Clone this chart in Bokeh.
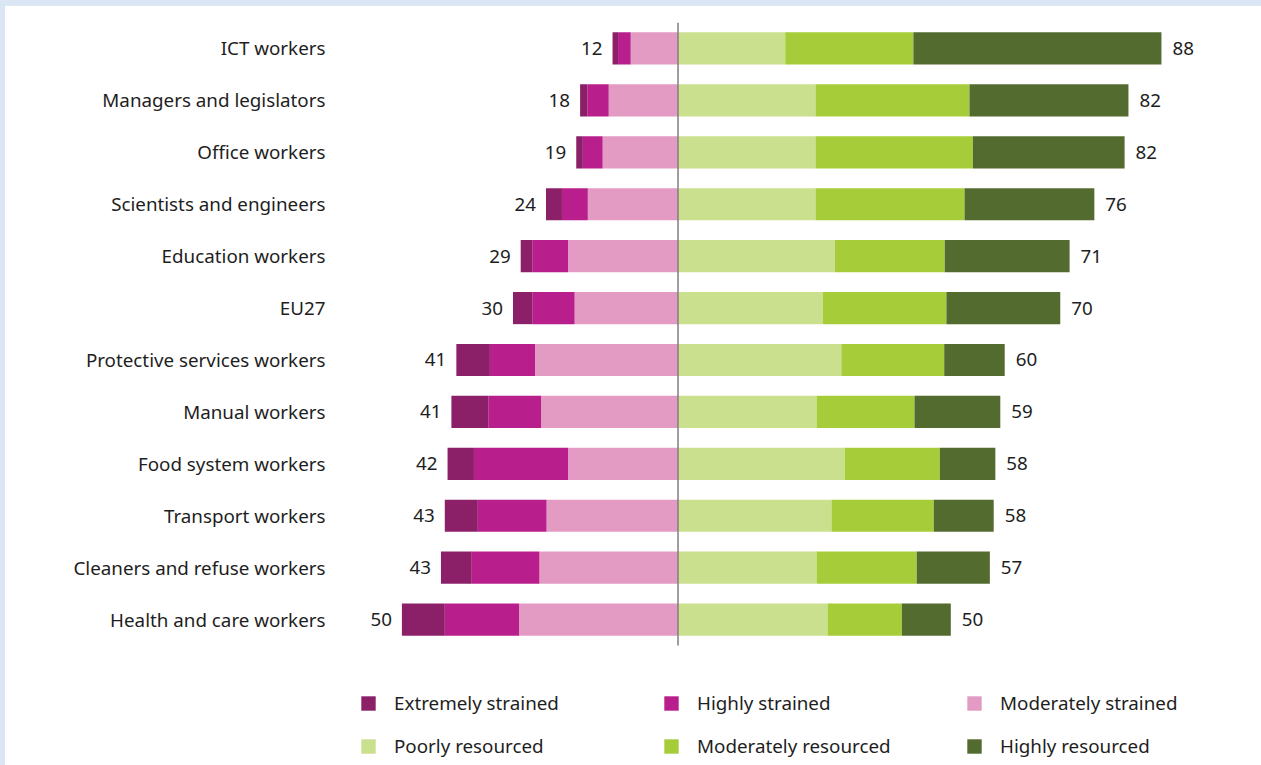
from bokeh.plotting import figure
from bokeh.models import ColumnDataSource, Legend, LegendItem, Range1d, FixedTicker
from bokeh.embed import file_html
from bokeh.resources import INLINE
from bokeh.core.properties import value

categories = [
    "ICT workers", "Managers and legislators", "Office workers",
    "Scientists and engineers", "Education workers", "EU27",
    "Protective services workers", "Manual workers", "Food system workers",
    "Transport workers", "Cleaners and refuse workers", "Health and care workers",
]
extremely_strained = [1.0, 1.3, 1.2, 2.9, 2.1, 3.5, 6.1, 6.7, 4.8, 6.0, 5.6, 7.8]
highly_strained = [2.3, 3.9, 3.6, 4.7, 6.5, 7.7, 8.2, 9.6, 17.1, 12.5, 12.3, 13.5]
moderately_strained = [8.6, 12.6, 13.7, 16.4, 20.0, 18.8, 26.0, 24.9, 20.0, 23.9, 25.2, 28.9]
poorly_resourced = [19.5, 25.0, 25.0, 25.0, 28.5, 26.3, 29.7, 25.2, 30.3, 27.9, 25.2, 27.2]
moderately_resourced = [23.3, 28.0, 28.6, 27.1, 20.0, 22.5, 18.7, 17.8, 17.3, 18.6, 18.2, 13.5]
highly_resourced = [45.1, 28.9, 27.6, 23.6, 22.7, 20.7, 11.0, 15.6, 10.1, 10.9, 13.3, 8.9]
strained_labels = [12, 18, 19, 24, 29, 30, 41, 41, 42, 43, 43, 50]
resourced_labels = [88, 82, 82, 76, 71, 70, 60, 59, 58, 58, 57, 50]

series_names = [
    "Extremely strained", "Highly strained", "Moderately strained",
    "Poorly resourced", "Moderately resourced", "Highly resourced",
]
colors = ["#8b2069", "#b91f8c", "#e39bc3", "#cbe08e", "#a6cd39", "#546b30"]

FONT = "Noto Sans"
FS = "18.8px"
TEXT = "#1e1e1e"

rows = list(range(len(categories)))

source = ColumnDataSource(dict(
    row=rows,
    ext=[-v for v in extremely_strained],
    hig=[-v for v in highly_strained],
    mods=[-v for v in moderately_strained],
    poor=poorly_resourced,
    modr=moderately_resourced,
    highr=highly_resourced,
))

p = figure(
    width=1256, height=759,
    y_range=Range1d(13.81, -0.5),
    x_range=Range1d(-61.91, 106.09),
    x_axis_location=None,
    output_backend="svg", toolbar_location=None,
    min_border_left=332, min_border_right=0, min_border_top=16, min_border_bottom=0,
)
p.outline_line_color = None
p.xgrid.visible = False
p.ygrid.visible = False
p.background_fill_color = None
p.border_fill_color = None

left = p.hbar_stack(["mods", "hig", "ext"], y="row", height=0.62, source=source,
                    color=[colors[2], colors[1], colors[0]], line_color=None)
right = p.hbar_stack(["poor", "modr", "highr"], y="row", height=0.62, source=source,
                     color=[colors[3], colors[4], colors[5]], line_color=None)

# zero line across the category band
p.segment(x0=[0], x1=[0], y0=[rows[0] - 0.5], y1=[rows[-1] + 0.5],
          line_color="#7f7f7f", line_width=1.5)

lab_src = ColumnDataSource(dict(
    row=rows,
    lx=[-(a + b + c) for a, b, c in zip(extremely_strained, highly_strained, moderately_strained)],
    rx=[a + b + c for a, b, c in zip(poorly_resourced, moderately_resourced, highly_resourced)],
    lt=[str(v) for v in strained_labels],
    rt=[str(v) for v in resourced_labels],
))
p.text(x="lx", y="row", text="lt", source=lab_src, x_offset=-10, text_align="right",
       text_baseline="middle", text_font=value(FONT), text_font_size=FS, text_color=TEXT)
p.text(x="rx", y="row", text="rt", source=lab_src, x_offset=11, text_align="left",
       text_baseline="middle", text_font=value(FONT), text_font_size=FS, text_color=TEXT)

ax = p.yaxis[0]
ax.ticker = FixedTicker(ticks=rows)
ax.major_label_overrides = {r: c for r, c in zip(rows, categories)}
ax.axis_line_color = None
ax.major_tick_line_color = None
ax.minor_tick_line_color = None
ax.major_tick_out = 0
ax.major_tick_in = 0
ax.minor_tick_out = 0
ax.major_label_standoff = 12
ax.major_label_text_font = FONT
ax.major_label_text_font_size = FS
ax.major_label_text_color = TEXT

renderers = [left[2], left[1], left[0], right[0], right[1], right[2]]
items = [LegendItem(label=n, renderers=[r]) for n, r in zip(series_names, renderers)]
legend = Legend(
    items=items, orientation="horizontal", ncols=3, location=(22, 6),
    glyph_width=18, glyph_height=18, label_standoff=17, label_width=251,
    label_height=24, spacing=17, padding=0, margin=0, border_line_color=None,
    background_fill_alpha=0, label_text_font=FONT, label_text_font_size=FS,
    label_text_color=TEXT,
)
p.add_layout(legend, "center")

template = """
{% block preamble %}
<style>
html { margin: 0 !important; padding: 0 !important; background: #ffffff !important; overflow: hidden !important; }
body { margin: 0 !important; padding: 0 !important; background: #ffffff !important; overflow: hidden !important;
       box-sizing: border-box !important; border-top: 6px solid #dae6f3 !important; border-left: 5px solid #dae6f3 !important; }
</style>
{% endblock %}
"""

open("out.html", "w").write(file_html(p, INLINE, template=template))
